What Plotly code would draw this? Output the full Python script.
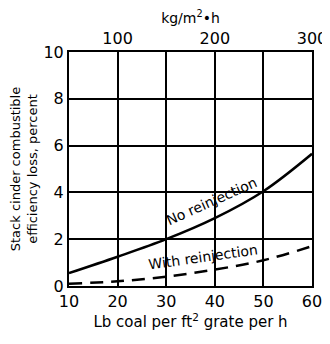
import plotly.graph_objects as go

# Coal firing rate, lb per ft2 grate per h
rate = [10, 20, 30, 40, 50, 60]
# Efficiency loss, percent
no_reinjection = [0.55, 1.25, 2.0, 2.9, 4.05, 5.65]
with_reinjection = [0.1, 0.2, 0.4, 0.7, 1.1, 1.7]

x_ticks = [10, 20, 30, 40, 50, 60]
y_ticks = [0, 2, 4, 6, 8, 10]
top_ticks = [100, 200, 300]

FONT = "DejaVu Sans"
tick_font = dict(family=FONT, size=16, color="black")

fig = go.Figure()

fig.add_trace(go.Scatter(
    x=rate, y=no_reinjection, mode="lines", line_shape="spline",
    line=dict(color="black", width=2.5), showlegend=False,
))
fig.add_trace(go.Scatter(
    x=rate, y=with_reinjection, mode="lines", line_shape="spline",
    line=dict(color="black", width=2.5, dash="13px,8px"), showlegend=False,
))
# invisible trace so the top (metric) axis gets drawn
fig.add_trace(go.Scatter(
    x=[50, 300], y=[0, 0], xaxis="x2", mode="lines",
    line=dict(width=0), hoverinfo="skip", showlegend=False,
))

fig.add_annotation(x=39.4, y=3.62, text="No reinjection", showarrow=False,
                   textangle=-24, font=dict(family=FONT, size=14, color="black"))
fig.add_annotation(x=37.6, y=1.25, text="With reinjection", showarrow=False,
                   textangle=-8, font=dict(family=FONT, size=14, color="black"))

# page body has an 8px margin, so the figure is 8px smaller than the window
fig.update_layout(
    width=322, height=336,
    margin=dict(l=61, r=18, t=44, b=58),
    plot_bgcolor="white", paper_bgcolor="white",
    font=dict(family=FONT, size=14, color="black"),
    xaxis=dict(
        range=[10, 60], tickvals=x_ticks, showgrid=True, gridcolor="black",
        gridwidth=1.5, showline=True, linecolor="black", linewidth=2,
        ticks="", zeroline=False, automargin=False, tickfont=tick_font,
        title=dict(text="Lb coal per ft<sup>2</sup> grate per h", standoff=4,
                   font=dict(family=FONT, size=15)),
    ),
    xaxis2=dict(
        range=[50, 300], tickvals=top_ticks, overlaying="x", side="top",
        showgrid=False, showline=True, linecolor="black", linewidth=2,
        ticks="inside", ticklen=7, tickwidth=1.5, tickcolor="black",
        zeroline=False, automargin=False, tickfont=tick_font,
        title=dict(text="kg/m<sup>2</sup>•h", standoff=2,
                   font=dict(family=FONT, size=14)),
    ),
    yaxis=dict(
        range=[0, 10], tickvals=y_ticks, showgrid=True, gridcolor="black",
        gridwidth=1.5, showline=True, linecolor="black", linewidth=2,
        mirror=True, ticks="", zeroline=False, automargin=False,
        tickfont=tick_font,
        title=dict(text="Stack cinder combustible<br>efficiency loss, percent",
                   standoff=6, font=dict(family=FONT, size=13)),
    ),
)

fig.write_html("out.html")
